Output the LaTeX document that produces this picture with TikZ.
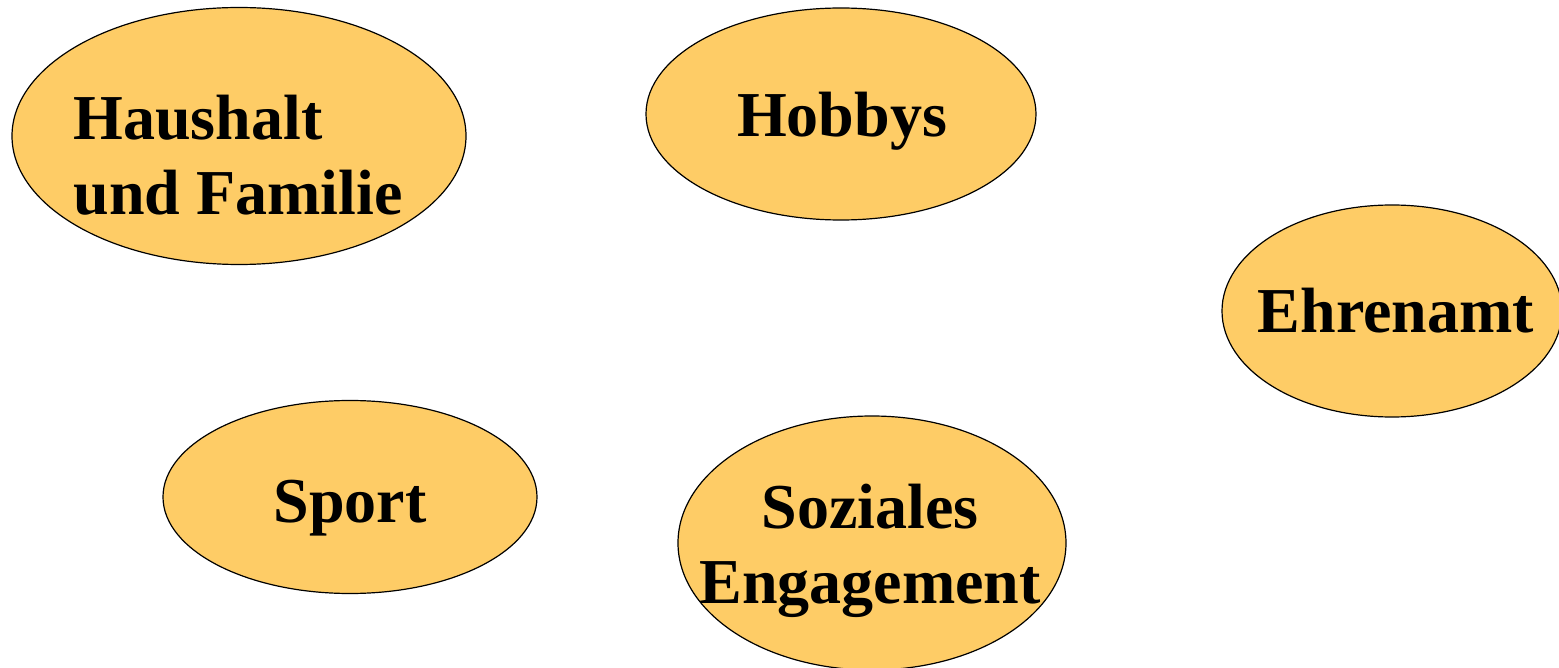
\documentclass[tikz,border=0pt]{standalone}
\usepackage{fontspec}
\setmainfont{Liberation Serif}
\usetikzlibrary{shapes.geometric}
\definecolor{blobfill}{RGB}{254,204,102}

\begin{document}
\begin{tikzpicture}[
x=0.5pt, y=-0.5pt,
blob/.style={ellipse, draw=black, fill=blobfill, line width=0.6pt, inner sep=0pt},
word/.style={font=\bfseries\fontsize{32}{37.5}\selectfont, inner sep=0pt, anchor=base}
]
\useasboundingbox (0,0) rectangle (1559,668);
%Ellipses
\node[blob, minimum width=227pt, minimum height=128.5pt] (haushalt) at (239,136) {};
\node[blob, minimum width=195pt, minimum height=106pt]   (hobbys)   at (841,114) {};
\node[blob, minimum width=170pt, minimum height=106pt]   (ehrenamt) at (1392,311) {};
\node[blob, minimum width=187pt, minimum height=96.5pt]  (sport)    at (350,497) {};
\node[blob, minimum width=194pt, minimum height=127pt]   (sozial)   at (872,543) {};
%Texts (base = last line)
\node[word, align=left]   (haushaltT) at (238,215)  {Haushalt\\und Familie};
\node[word]               (hobbysT)   at (842,137)  {Hobbys};
\node[word]               (ehrenamtT) at (1396,333) {Ehrenamt};
\node[word]               (sportT)    at (350,522)  {Sport};
\node[word, align=center] (sozialT)   at (870,603)  {Soziales\\Engagement};
\end{tikzpicture}
\end{document}
